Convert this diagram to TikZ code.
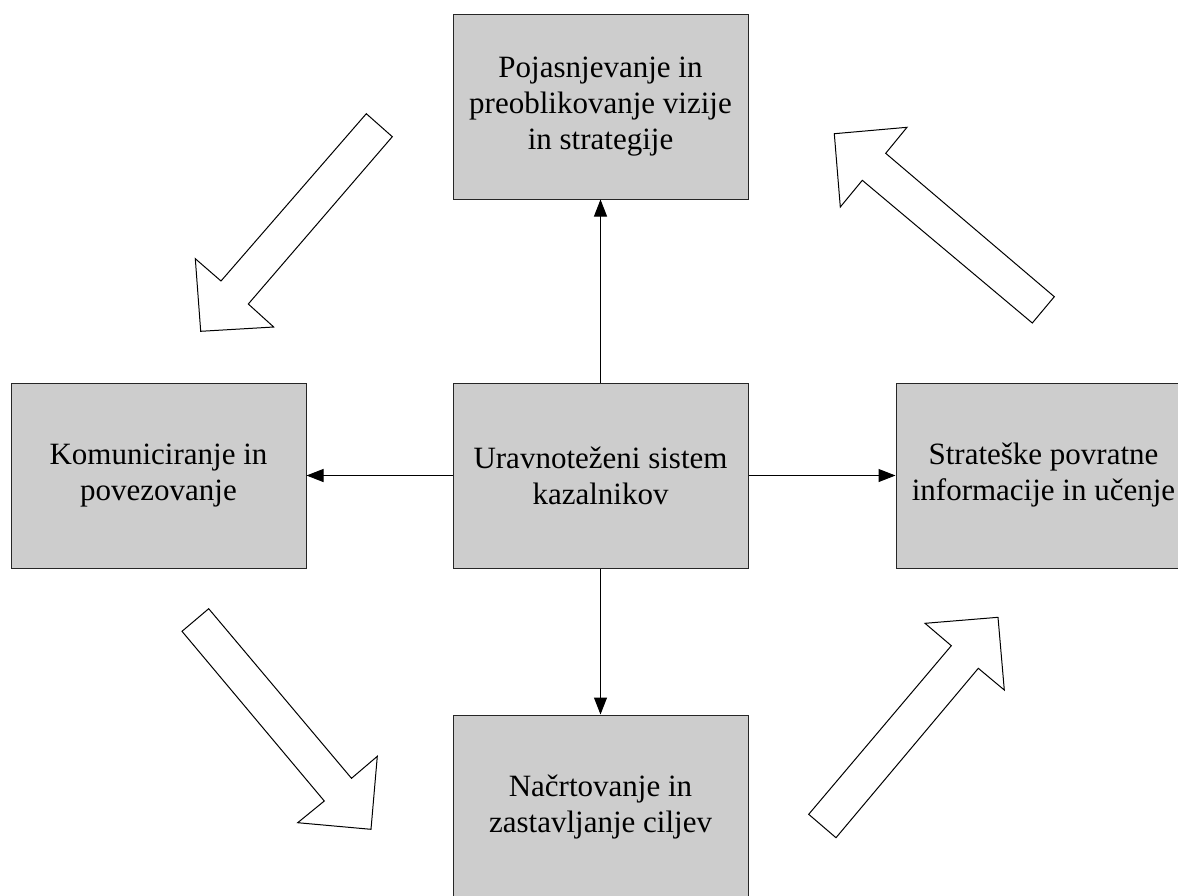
\documentclass[tikz,border=0pt]{standalone}
\usepackage{fontspec}
\setmainfont{Liberation Serif}
\usetikzlibrary{arrows.meta}
\definecolor{boxgray}{RGB}{205,205,205}
\tikzset{
  stage/.style={draw=black!85, line width=1pt, fill=boxgray, minimum width=295pt,
    minimum height=185pt, align=center, inner sep=0pt,
    font=\fontsize{31}{36}\selectfont},
  link/.style={line width=1pt, -{Triangle[length=17pt,width=13pt]}},
  bigarrow/.style={draw=black, line width=1pt, fill=white, line join=miter}
}
\begin{document}
\begin{tikzpicture}[x=1pt, y=-1pt]
  \useasboundingbox (0,0) rectangle (1178,895);
  \clip (0,0) rectangle (1178,895);

  % boxes
  \node[stage] (vision) at (600.5,106.5) {Pojasnjevanje in\\preoblikovanje vizije\\in strategije};
  \node[stage] (bsc)    at (600.5,475.5) {Uravnoteženi sistem\\kazalnikov};
  \node[stage] (comm)   at (158.5,475.5) {Komuniciranje in\\povezovanje};
  \node[stage] (learn)  at (1043.5,475.5) {Strateške povratne\\informacije in učenje};
  \node[stage] (plan)   at (600.5,807.5) {Načrtovanje in\\zastavljanje ciljev};

  % connectors from the central box
  \draw[link] (bsc.north) -- (vision.south);
  \draw[link] (bsc.west)  -- (comm.east);
  \draw[link] (bsc.east)  -- (learn.west);
  \draw[link] (bsc.south) -- (plan.north);

  % block arrows showing the cycle
  \draw[bigarrow] (366.3,113.7) -- (392.3,136.7) -- (248.3,304) -- (273.7,327)
    -- (200.7,331.3) -- (195.3,258.7) -- (221,281) -- cycle;
  \draw[bigarrow] (208.7,608.7) -- (182,631.3) -- (324.3,801) -- (297.7,822.7)
    -- (371,829.3) -- (377.3,756.3) -- (351.5,778.3) -- cycle;
  \draw[bigarrow] (808.7,814.3) -- (836,837.7) -- (978.3,668.3) -- (1004.3,690)
    -- (998,617.3) -- (925,623.3) -- (951.3,645.7) -- cycle;
  \draw[bigarrow] (1054.3,296.7) -- (1032.3,323) -- (862.3,180.3) -- (840.3,207)
    -- (834.3,133.7) -- (907,127.3) -- (885.7,153.3) -- cycle;
\end{tikzpicture}
\end{document}
